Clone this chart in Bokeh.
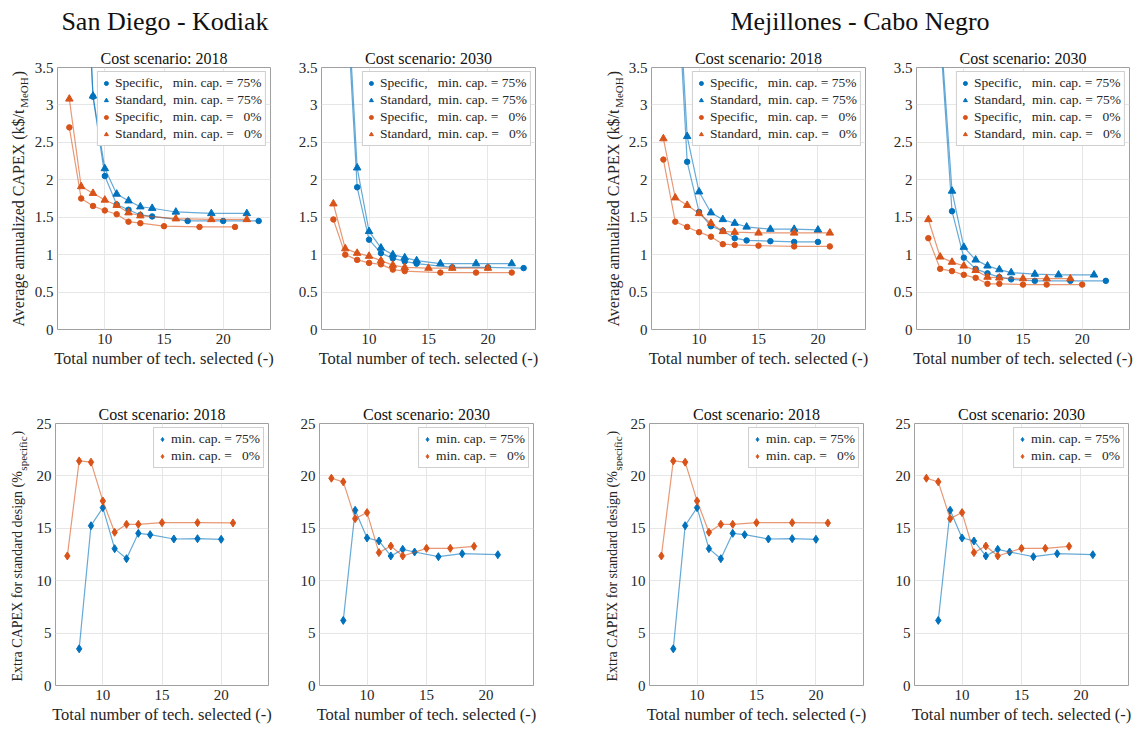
import math
from bokeh.plotting import figure
from bokeh.models import Range1d, FixedTicker, CustomJSTickFormatter, Legend, LegendItem, Label, Div
from bokeh.layouts import column, row
from bokeh.embed import file_html
from bokeh.resources import INLINE

FONT = "Liberation Serif"
BLUE = "#0072BD"
ORANGE = "#D95319"
TXT = "#262626"
NB = "\u00a0"

# ---------------- data: average annualized CAPEX (k$/t_MeOH) ----------------
sd18_spec75_x = [8, 9, 10, 11, 12, 13, 14, 17, 20, 23]
sd18_spec75_y = [6.3, 3.11, 2.05, 1.67, 1.60, 1.53, 1.51, 1.45, 1.45, 1.45]
sd18_std75_x = [8, 9, 10, 11, 12, 13, 14, 16, 19, 22]
sd18_std75_y = [6.5, 3.12, 2.15, 1.81, 1.72, 1.64, 1.62, 1.57, 1.55, 1.55]
sd18_spec0_x = [7, 8, 9, 10, 11, 12, 13, 15, 18, 21]
sd18_spec0_y = [2.70, 1.75, 1.65, 1.59, 1.54, 1.44, 1.42, 1.38, 1.37, 1.37]
sd18_std0_x = [7, 8, 9, 10, 11, 12, 13, 16, 19, 22]
sd18_std0_y = [3.08, 1.91, 1.82, 1.73, 1.66, 1.56, 1.52, 1.48, 1.47, 1.47]

sd30_spec75_x = [8, 9, 10, 11, 12, 13, 14, 17, 20, 23]
sd30_spec75_y = [4.75, 1.90, 1.20, 1.02, 0.95, 0.91, 0.88, 0.83, 0.83, 0.82]
sd30_std75_x = [8, 9, 10, 11, 12, 13, 14, 16, 19, 22]
sd30_std75_y = [5.0, 2.16, 1.31, 1.09, 1.00, 0.96, 0.92, 0.88, 0.88, 0.88]
sd30_spec0_x = [7, 8, 9, 10, 11, 12, 13, 16, 19, 22]
sd30_spec0_y = [1.47, 1.00, 0.93, 0.89, 0.87, 0.80, 0.78, 0.76, 0.76, 0.76]
sd30_std0_x = [7, 8, 9, 10, 11, 12, 13, 15, 17, 20]
sd30_std0_y = [1.68, 1.08, 1.02, 0.98, 0.92, 0.86, 0.83, 0.82, 0.82, 0.82]

mcn18_spec75_x = [8, 9, 10, 11, 12, 13, 14, 16, 18, 20]
mcn18_spec75_y = [5.2, 2.24, 1.57, 1.38, 1.32, 1.22, 1.19, 1.18, 1.17, 1.17]
mcn18_std75_x = [8, 9, 10, 11, 12, 13, 14, 16, 18, 20]
mcn18_std75_y = [5.4, 2.58, 1.84, 1.56, 1.47, 1.42, 1.37, 1.34, 1.34, 1.33]
mcn18_spec0_x = [7, 8, 9, 10, 11, 12, 13, 15, 18, 21]
mcn18_spec0_y = [2.27, 1.44, 1.37, 1.30, 1.24, 1.14, 1.13, 1.12, 1.11, 1.11]
mcn18_std0_x = [7, 8, 9, 10, 11, 12, 13, 15, 18, 21]
mcn18_std0_y = [2.55, 1.76, 1.66, 1.55, 1.42, 1.31, 1.30, 1.29, 1.29, 1.29]

mcn30_spec75_x = [8, 9, 10, 11, 12, 13, 14, 16, 19, 22]
mcn30_spec75_y = [3.95, 1.58, 0.96, 0.81, 0.75, 0.70, 0.67, 0.65, 0.65, 0.65]
mcn30_std75_x = [8, 9, 10, 11, 12, 13, 14, 16, 18, 21]
mcn30_std75_y = [4.1, 1.85, 1.10, 0.93, 0.85, 0.80, 0.76, 0.74, 0.73, 0.73]
mcn30_spec0_x = [7, 8, 9, 10, 11, 12, 13, 15, 17, 20]
mcn30_spec0_y = [1.22, 0.81, 0.78, 0.73, 0.69, 0.61, 0.61, 0.60, 0.60, 0.60]
mcn30_std0_x = [7, 8, 9, 10, 11, 12, 13, 15, 17, 19]
mcn30_std0_y = [1.47, 0.97, 0.90, 0.85, 0.79, 0.70, 0.69, 0.68, 0.68, 0.68]

# ---------------- data: extra CAPEX for standard design (%) ----------------
sd18_ext75_x = [8, 9, 10, 11, 12, 13, 14, 16, 18, 20]
sd18_ext75_y = [3.5, 15.25, 16.97, 13.06, 12.10, 14.52, 14.39, 13.98, 14.01, 13.95]
sd18_ext0_x = [7, 8, 9, 10, 11, 12, 13, 15, 18, 21]
sd18_ext0_y = [12.36, 21.43, 21.31, 17.61, 14.62, 15.38, 15.38, 15.54, 15.54, 15.51]
sd30_ext75_x = [8, 9, 10, 11, 12, 13, 14, 16, 18, 21]
sd30_ext75_y = [6.21, 16.72, 14.08, 13.79, 12.36, 12.99, 12.74, 12.29, 12.58, 12.48]
sd30_ext0_x = [7, 8, 9, 10, 11, 12, 13, 15, 17, 19]
sd30_ext0_y = [19.78, 19.43, 15.92, 16.50, 12.68, 13.31, 12.36, 13.09, 13.09, 13.28]

mcn18_ext75_x = [8, 9, 10, 11, 12, 13, 14, 16, 18, 20]
mcn18_ext75_y = [3.5, 15.25, 16.97, 13.06, 12.10, 14.52, 14.39, 13.98, 14.01, 13.95]
mcn18_ext0_x = [7, 8, 9, 10, 11, 12, 13, 15, 18, 21]
mcn18_ext0_y = [12.36, 21.43, 21.31, 17.61, 14.62, 15.38, 15.38, 15.54, 15.54, 15.51]
mcn30_ext75_x = [8, 9, 10, 11, 12, 13, 14, 16, 18, 21]
mcn30_ext75_y = [6.21, 16.72, 14.08, 13.79, 12.36, 12.99, 12.74, 12.29, 12.58, 12.48]
mcn30_ext0_x = [7, 8, 9, 10, 11, 12, 13, 15, 17, 19]
mcn30_ext0_y = [19.78, 19.43, 15.92, 16.50, 12.68, 13.31, 12.36, 13.09, 13.09, 13.28]

x_ticks = [10, 15, 20]
capex_ticks = [0, 0.5, 1, 1.5, 2, 2.5, 3, 3.5]
extra_ticks = [0, 5, 10, 15, 20, 25]

top_labels = ["Specific," + NB * 3 + "min. cap. = 75%",
              "Standard," + NB * 2 + "min. cap. = 75%",
              "Specific," + NB * 3 + "min. cap. =" + NB * 3 + "0%",
              "Standard," + NB * 2 + "min. cap. =" + NB * 3 + "0%"]
bot_labels = ["min. cap. = 75%", "min. cap. =" + NB * 3 + "0%"]

TOP_H, BOT_H = 336, 353


def make_fig(w, h, left, right, top, bottom, title, ymax, yticks):
    p = figure(width=w, height=h, x_range=Range1d(6, 24), y_range=Range1d(0, ymax),
               output_backend="svg", toolbar_location=None,
               min_border_left=left, min_border_right=right,
               min_border_top=top, min_border_bottom=bottom)
    p.title.text = title
    p.title.align = "center"
    p.title.text_font = FONT
    p.title.text_font_size = "16px"
    p.title.text_font_style = "normal"
    p.title.text_color = "#111111"
    p.title.standoff = 2
    p.xaxis.ticker = FixedTicker(ticks=x_ticks, minor_ticks=[])
    p.yaxis.ticker = FixedTicker(ticks=yticks, minor_ticks=[])
    p.yaxis.formatter = CustomJSTickFormatter(code="return String(tick)")
    for ax in (p.xaxis[0], p.yaxis[0]):
        ax.major_label_text_font = FONT
        ax.major_label_text_font_size = "15px"
        ax.major_label_text_color = TXT
        ax.major_tick_in = 0
        ax.major_tick_out = 0
        ax.major_label_standoff = 4
        ax.axis_line_color = None
    p.xaxis.axis_label = "Total number of tech. selected (-)"
    p.xaxis.axis_label_text_font = FONT
    p.xaxis.axis_label_text_font_size = "16.5px"
    p.xaxis.axis_label_text_font_style = "normal"
    p.xaxis.axis_label_text_color = TXT
    p.xaxis.axis_label_standoff = 2
    p.grid.grid_line_color = "#e6e6e6"
    p.outline_line_color = "#a0a0a0"
    p.outline_line_width = 1
    p.background_fill_color = "white"
    p.border_fill_color = "white"
    return p


def label_fig(w, h, main, main_em, sub, sub_em, fs, xc, y0):
    """Frame-only figure carrying the rotated y-axis title (with subscript) of the panel to its right."""
    q = figure(width=w, height=h, x_range=Range1d(0, 1), y_range=Range1d(0, 1),
               output_backend="svg", toolbar_location=None, title=None,
               x_axis_location=None, y_axis_location=None,
               min_border=0, min_border_left=0, min_border_right=0, min_border_top=0, min_border_bottom=0)
    q.grid.visible = False
    q.outline_line_color = None
    q.background_fill_color = "white"
    q.border_fill_color = "white"
    main_w = main_em * fs
    sub_w = sub_em * 11
    common = dict(x_units="screen", y_units="screen", angle=math.pi / 2,
                  text_align="left", text_baseline="middle", text_font=FONT, text_color=TXT)
    q.add_layout(Label(x=xc, y=y0, text=main, text_font_size=f"{fs}px", **common))
    q.add_layout(Label(x=xc + 5, y=y0 + main_w + 0.5, text=sub, text_font_size="11px", **common))
    q.add_layout(Label(x=xc, y=y0 + main_w + sub_w + 1.5, text=")", text_font_size=f"{fs}px", **common))
    return q


def series(p, x, y, color, marker, size):
    p.line(x, y, line_color=color, line_alpha=0.6, line_width=1.2)
    return p.scatter(x, y, marker=marker, size=size, fill_color=color, line_color=color)


def legend(p, renderers, labels):
    lg = Legend(items=[LegendItem(label=l, renderers=[r]) for l, r in zip(labels, renderers)],
                location="top_right", label_text_font=FONT, label_text_font_size="13.5px",
                label_text_color=TXT, glyph_width=10, glyph_height=14, label_height=14,
                label_standoff=4, padding=3, spacing=1, margin=4,
                border_line_color="#a0a0a0", background_fill_color="white", background_fill_alpha=1)
    p.add_layout(lg)


def top_panel(w, left, right, title, d):
    p = make_fig(w, TOP_H, left, right, 27, 47, title, 3.5, capex_ticks)
    rs = [series(p, d[0], d[1], BLUE, "circle", 5.5),
          series(p, d[2], d[3], BLUE, "triangle", 7.5),
          series(p, d[4], d[5], ORANGE, "circle", 5.5),
          series(p, d[6], d[7], ORANGE, "triangle", 7.5)]
    legend(p, rs, top_labels)
    return p


def bottom_panel(w, left, right, title, d):
    p = make_fig(w, BOT_H, left, right, 47, 44, title, 25, extra_ticks)
    rs = [series(p, d[0], d[1], BLUE, "diamond", 8),
          series(p, d[2], d[3], ORANGE, "diamond", 8)]
    legend(p, rs, bot_labels)
    return p


CAPEX_LAB = ("Average annualized CAPEX (k$/t", 13.636, "MeOH", 2.777, 16)
EXTRA_LAB = ("Extra CAPEX for standard design (%", 15.025, "specific", 3.110, 14)

# top row: [label 30] p1 [27|213|8] p2 [43|214|6] [label 84] p3 [26|214|10] p4 [41|213|7]
l1 = label_fig(30, TOP_H, *CAPEX_LAB, 18, 3)
p1 = top_panel(248, 27, 8, "Cost scenario: 2018",
               [sd18_spec75_x, sd18_spec75_y, sd18_std75_x, sd18_std75_y,
                sd18_spec0_x, sd18_spec0_y, sd18_std0_x, sd18_std0_y])
p2 = top_panel(263, 43, 6, "Cost scenario: 2030",
               [sd30_spec75_x, sd30_spec75_y, sd30_std75_x, sd30_std75_y,
                sd30_spec0_x, sd30_spec0_y, sd30_std0_x, sd30_std0_y])
l3 = label_fig(84, TOP_H, *CAPEX_LAB, 72, 3)
p3 = top_panel(250, 26, 10, "Cost scenario: 2018",
               [mcn18_spec75_x, mcn18_spec75_y, mcn18_std75_x, mcn18_std75_y,
                mcn18_spec0_x, mcn18_spec0_y, mcn18_std0_x, mcn18_std0_y])
p4 = top_panel(261, 41, 7, "Cost scenario: 2030",
               [mcn30_spec75_x, mcn30_spec75_y, mcn30_std75_x, mcn30_std75_y,
                mcn30_spec0_x, mcn30_spec0_y, mcn30_std0_x, mcn30_std0_y])

# bottom row: [label 30] p5 [25|213|8] p6 [43|214|6] [label 84] p7 [26|214|10] p8 [41|214|8]
l5 = label_fig(30, BOT_H, *EXTRA_LAB, 17, 4)
p5 = bottom_panel(246, 25, 8, "Cost scenario: 2018",
                  [sd18_ext75_x, sd18_ext75_y, sd18_ext0_x, sd18_ext0_y])
p6 = bottom_panel(263, 43, 6, "Cost scenario: 2030",
                  [sd30_ext75_x, sd30_ext75_y, sd30_ext0_x, sd30_ext0_y])
l7 = label_fig(84, BOT_H, *EXTRA_LAB, 73, 4)
p7 = bottom_panel(250, 26, 10, "Cost scenario: 2018",
                  [mcn18_ext75_x, mcn18_ext75_y, mcn18_ext0_x, mcn18_ext0_y])
p8 = bottom_panel(263, 41, 8, "Cost scenario: 2030",
                  [mcn30_ext75_x, mcn30_ext75_y, mcn30_ext0_x, mcn30_ext0_y])

header_html = (
    '<div style="position:relative;width:1136px;height:40px;font-family:\'Liberation Serif\',serif;'
    'font-size:26px;color:#111;">'
    '<span style="position:absolute;left:165px;top:3px;transform:translateX(-50%);white-space:nowrap;">'
    'San Diego - Kodiak</span>'
    '<span style="position:absolute;left:860px;top:3px;transform:translateX(-50%);white-space:nowrap;">'
    'Mejillones - Cabo Negro</span></div>'
)
header = Div(text=header_html, width=1136, height=40, margin=(0, 0, 0, 0))

layout = column(header,
                row(l1, p1, p2, l3, p3, p4, spacing=0),
                row(l5, p5, p6, l7, p7, p8, spacing=0),
                spacing=0)

with open("out.html", "w") as f:
    f.write(file_html(layout, INLINE, title="CAPEX comparison"))
